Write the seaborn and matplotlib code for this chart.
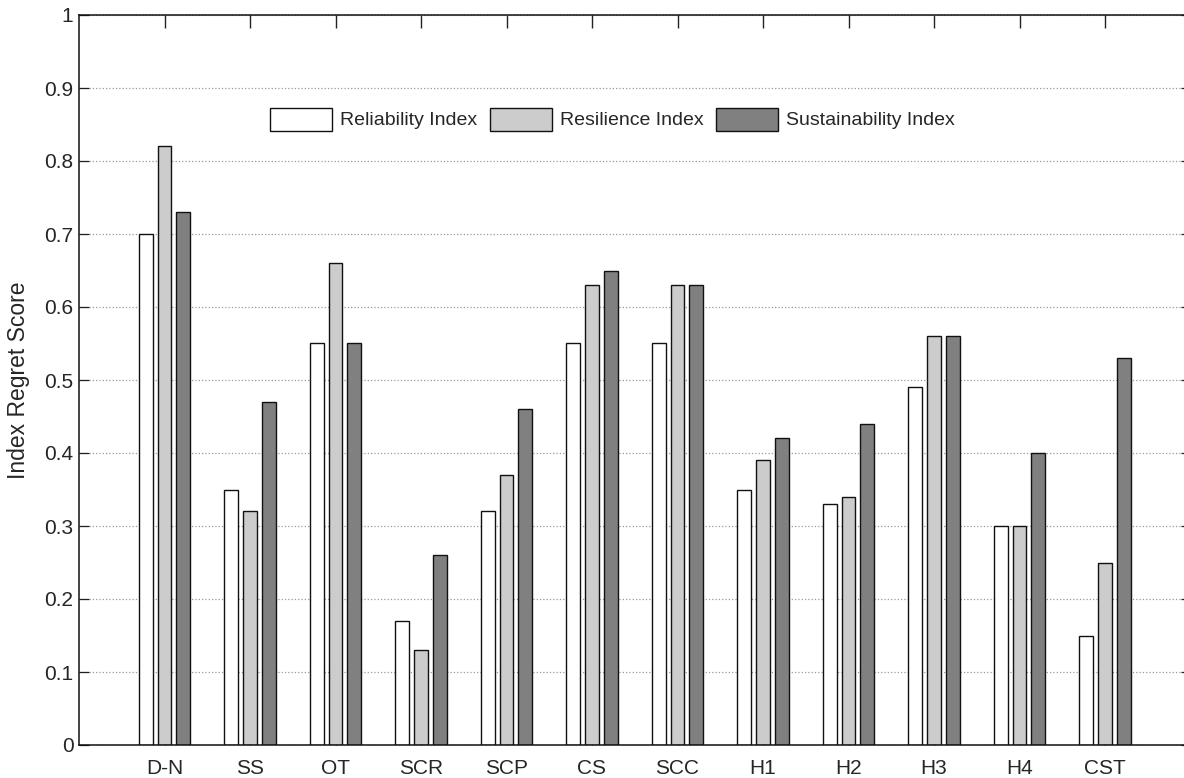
import matplotlib
matplotlib.use("Agg")
import matplotlib.pyplot as plt
import numpy as np
import pandas as pd
import seaborn as sns

sns.set_theme(style="ticks")
plt.rcParams["font.family"] = ["Liberation Sans", "DejaVu Sans"]

categories = ["D-N", "SS", "OT", "SCR", "SCP", "CS", "SCC", "H1", "H2", "H3", "H4", "CST"]
reliability = [0.70, 0.35, 0.55, 0.17, 0.32, 0.55, 0.55, 0.35, 0.33, 0.49, 0.30, 0.15]
resilience = [0.82, 0.32, 0.66, 0.13, 0.37, 0.63, 0.63, 0.39, 0.34, 0.56, 0.30, 0.25]
sustainability = [0.73, 0.47, 0.55, 0.26, 0.46, 0.65, 0.63, 0.42, 0.44, 0.56, 0.40, 0.53]
series_names = ["Reliability Index", "Resilience Index", "Sustainability Index"]

df = pd.DataFrame({
    "cat": categories * 3,
    "val": reliability + resilience + sustainability,
    "series": [series_names[0]] * 12 + [series_names[1]] * 12 + [series_names[2]] * 12,
})

fig = plt.figure(figsize=(11.84, 7.78), dpi=100)
# right edge of the axes runs just past the image edge, like the reference crop
ax = fig.add_axes([79 / 1184, 33 / 778, 1111.5 / 1184, 730 / 778])

ax.yaxis.grid(True, linestyle=":", color="#999999", linewidth=0.9)
ax.set_axisbelow(True)

sns.barplot(
    data=df, x="cat", y="val", hue="series", order=categories,
    palette=["#ffffff", "#cccccc", "#808080"], edgecolor="#111111",
    linewidth=1.0, width=0.66, gap=0.27, ax=ax, legend=True,
)

ax.set_xlim(-1, 12)
ax.set_ylim(0, 1)
ax.set_yticks(np.arange(0, 1.01, 0.1))
ax.set_yticklabels(["0"] + [f"{v:.1f}" for v in np.arange(0.1, 0.95, 0.1)] + ["1"])
ax.set_xlabel("")
ax.set_ylabel("Index Regret Score", fontsize=16.5)
ax.yaxis.set_label_coords(-0.0441, 0.5)
ax.tick_params(axis="y", direction="in", labelsize=15, length=7, width=0.9,
               right=True, color="#222222", pad=4)
ax.tick_params(axis="x", direction="in", labelsize=15, length=9.5, width=1.0,
               top=True, color="#222222", pad=10)
for s in ax.spines.values():
    s.set_linewidth(1.1)
    s.set_color("#111111")
    s.set_visible(True)

ax.legend(loc="center", bbox_to_anchor=(0.480, 0.8575), ncol=3, frameon=False,
          fontsize=14, handlelength=3.2, handleheight=1.44, columnspacing=0.65,
          handletextpad=0.4)

plt.savefig("out.png", dpi=100)
